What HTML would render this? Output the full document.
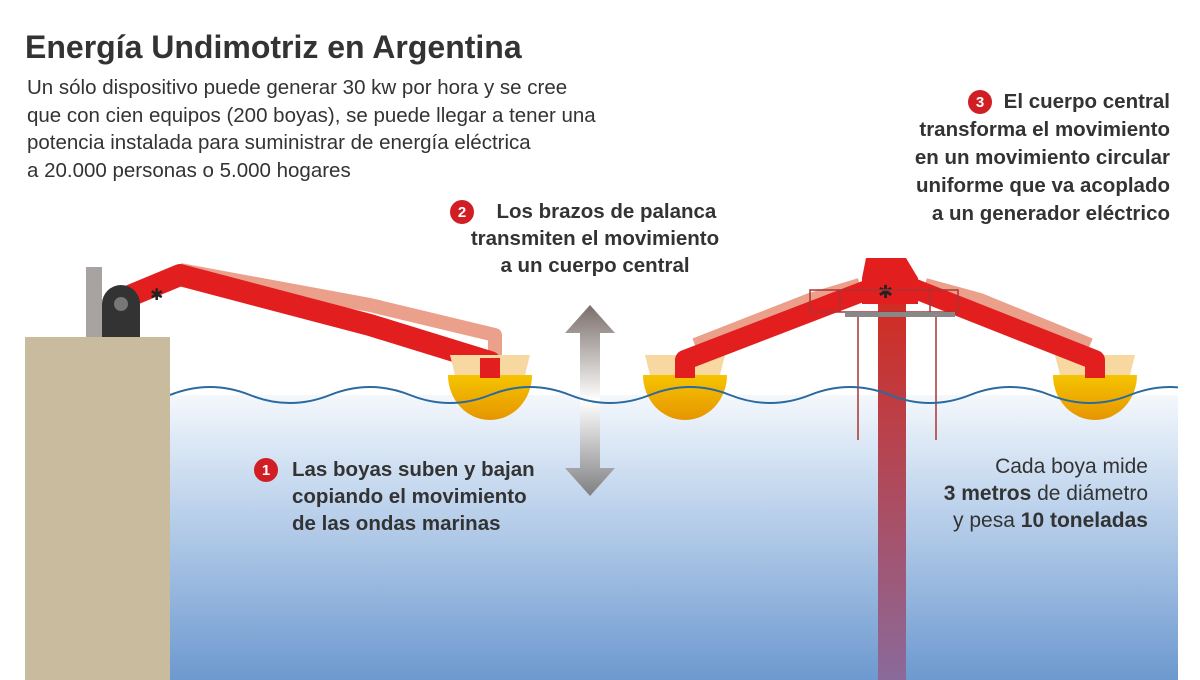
<!DOCTYPE html>
<html><head><meta charset="utf-8"><style>
body{margin:0;width:1200px;height:680px;overflow:hidden;background:#fff;font-family:"Liberation Sans",sans-serif;color:#333}
.t{position:absolute;white-space:nowrap}
</style></head><body>
<svg width="1200" height="680" style="position:absolute;left:0;top:0">
<defs>
<linearGradient id="w" x1="0" y1="0" x2="0" y2="1"><stop offset="0" stop-color="#f4f8fc"/><stop offset="0.3" stop-color="#c9dbf0"/><stop offset="1" stop-color="#6d99cf"/></linearGradient>
<linearGradient id="b" x1="0" y1="0" x2="0" y2="1"><stop offset="0" stop-color="#f5c400"/><stop offset="1" stop-color="#e69500"/></linearGradient>
<linearGradient id="ar" x1="0" y1="0" x2="0" y2="1"><stop offset="0" stop-color="#7a6e6a"/><stop offset="0.5" stop-color="#fff"/><stop offset="1" stop-color="#7f7f82"/></linearGradient>
<linearGradient id="p" x1="0" y1="0" x2="0" y2="1"><stop offset="0" stop-color="#d42a1e"/><stop offset="1" stop-color="#8a6a9a"/></linearGradient>
<g id="by"><path d="M-40,355 h80 l-5,20 h-70z" fill="#f7d8a0"/><path d="M-42,375 h84 a42,45 0 0 1 -84,0z" fill="url(#b)"/></g>
</defs>
<rect x="170" y="395" width="1008" height="285" fill="url(#w)"/>
<rect x="25" y="337" width="145" height="343" fill="#c9bb9e"/>
<rect x="86" y="267" width="16" height="70" fill="#a8a2a0"/>
<polyline points="180,270 370,305 495,335 495,362" fill="none" stroke="#eaa08a" stroke-width="14" stroke-linejoin="round"/>
<polyline points="120,300 180,275 370,325 490,362 490,378" fill="none" stroke="#e31e1e" stroke-width="22" stroke-linejoin="round"/>
<circle cx="121" cy="304" r="19" fill="#333"/><rect x="102" y="304" width="38" height="33" fill="#333"/><circle cx="121" cy="304" r="7" fill="#777"/>
<text x="150" y="300" font-size="16" fill="#222">✱</text>
<use href="#by" x="490"/><use href="#by" x="685"/><use href="#by" x="1095"/>
<rect x="480" y="358" width="20" height="20" fill="#e31e1e"/>
<path d="M590,305 l-25,28 h15 v135 h-15 l25,28 l25,-28 h-15 v-135 h15z" fill="url(#ar)"/>
<rect x="878" y="290" width="28" height="390" fill="url(#p)"/>
<polyline points="695,345 810,300 860,285" fill="none" stroke="#eaa08a" stroke-width="14"/>
<polyline points="1090,345 980,300 925,285" fill="none" stroke="#eaa08a" stroke-width="14"/>
<polyline points="685,378 685,360 880,285" fill="none" stroke="#e31e1e" stroke-width="20" stroke-linejoin="round"/>
<polyline points="1095,378 1095,360 905,285" fill="none" stroke="#e31e1e" stroke-width="20" stroke-linejoin="round"/>
<path d="M866,258 h40 l12,20 v26 h-56 v-26z" fill="#e31e1e"/>
<text x="878" y="298" font-size="18" fill="#222">✱</text>
<g fill="none" stroke="#a33" stroke-width="1.5"><rect x="810" y="290" width="148" height="22"/><line x1="840" y1="290" x2="840" y2="312"/><line x1="930" y1="290" x2="930" y2="312"/><line x1="858" y1="315" x2="858" y2="440"/><line x1="936" y1="315" x2="936" y2="440"/></g>
<rect x="845" y="312" width="110" height="5" fill="#888"/>
<svg x="170" y="370" width="1008" height="50" overflow="hidden">
<path d="M0,25 q40,-16 80,0 t80,0 t80,0 t80,0 t80,0 t80,0 t80,0 t80,0 t80,0 t80,0 t80,0 t80,0 t80,0" fill="none" stroke="#2a6aa0" stroke-width="2"/>
</svg>
<g fill="#d01e24"><circle cx="266" cy="470" r="12"/><circle cx="462" cy="212" r="12"/><circle cx="980" cy="102" r="12"/></g>
<g fill="#fff" font-weight="bold" font-size="15" text-anchor="middle" font-family="Liberation Sans"><text x="266" y="475">1</text><text x="462" y="217">2</text><text x="980" y="107">3</text></g>
</svg>
<div class="t" style="left:25px;top:29px;font-size:32px;font-weight:bold;color:#333">Energía Undimotriz en Argentina</div>
<div class="t" style="left:27px;top:74px;font-size:20.5px;line-height:27.5px">Un sólo dispositivo puede generar 30 kw por hora y se cree<br>que con cien equipos (200 boyas), se puede llegar a tener una<br>potencia instalada para suministrar de energía eléctrica<br>a 20.000 personas o 5.000 hogares</div>
<div class="t" style="left:455px;top:198px;width:280px;text-align:center;font-size:20.5px;font-weight:bold;line-height:27px">&nbsp;&nbsp;&nbsp;&nbsp;Los brazos de palanca<br>transmiten el movimiento<br>a un cuerpo central</div>
<div class="t" style="right:30px;top:88px;text-align:right;font-size:20.5px;font-weight:bold;line-height:28px">El cuerpo central<br>transforma el movimiento<br>en un movimiento circular<br>uniforme que va acoplado<br>a un generador eléctrico</div>
<div class="t" style="left:292px;top:456px;font-size:20.5px;font-weight:bold;line-height:27px">Las boyas suben y bajan<br>copiando el movimiento<br>de las ondas marinas</div>
<div class="t" style="right:52px;top:453px;text-align:right;font-size:21px;line-height:27px">Cada boya mide<br><b>3 metros</b> de diámetro<br>y pesa <b>10 toneladas</b></div>
</body></html>
